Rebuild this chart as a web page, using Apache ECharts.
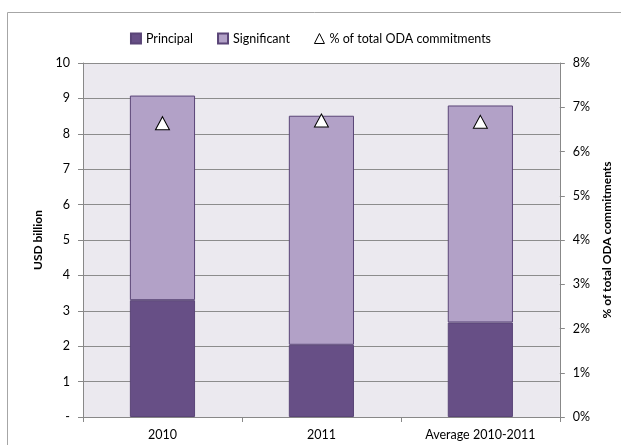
<!DOCTYPE html>
<html>
<head>
<meta charset="utf-8">
<script src="https://cdn.jsdelivr.net/npm/echarts@6/dist/echarts.min.js"></script>
<style>
  html, body { margin: 0; padding: 0; background: #fff; }
  #chart { width: 621px; height: 445px; }
</style>
</head>
<body>
<div id="chart"></div>
<script>
  // values
  var categories = ['2010', '2011', 'Average 2010-2011'];
  var principal = [3.30, 2.04, 2.67];
  var significant = [5.78, 6.47, 6.13];
  var pctOfOda = [6.64, 6.70, 6.67];

  var chart = echarts.init(document.getElementById('chart'));
  var font = 'Lato, "Open Sans", sans-serif';

  chart.setOption({
    animation: false,
    textStyle: { fontFamily: font },
    graphic: [{
      type: 'rect',
      shape: { x: 7.5, y: 12.5, width: 640, height: 460 },
      style: { fill: 'none', stroke: '#a6a6a6', lineWidth: 1 },
      silent: true
    }],
    legend: {
      top: 27,
      left: 'center',
      itemGap: 24,
      itemWidth: 10,
      itemHeight: 10,
      textStyle: { fontSize: 12.5, color: '#000', fontFamily: font },
      data: [
        { name: 'Principal', icon: 'rect' },
        { name: 'Significant', icon: 'rect' },
        { name: '% of total ODA commitments', icon: 'triangle',
          itemStyle: { color: '#fff', borderColor: '#000', borderWidth: 1 } }
      ]
    },
    grid: {
      left: 83, right: 60, top: 63, bottom: 28,
      show: true, backgroundColor: '#ebe9ef', borderWidth: 0
    },
    xAxis: {
      type: 'category',
      data: categories,
      axisLine: { lineStyle: { color: '#888' } },
      axisTick: { show: true, length: 5, lineStyle: { color: '#888' } },
      axisLabel: { color: '#000', fontSize: 12.5, margin: 11 }
    },
    yAxis: [{
      type: 'value',
      min: 0, max: 10, interval: 1,
      name: 'USD billion',
      nameLocation: 'middle',
      nameGap: 34,
      nameRotate: 90,
      nameTextStyle: { fontWeight: 'bold', fontSize: 12, color: '#000' },
      axisLine: { show: true, lineStyle: { color: '#888' } },
      axisTick: { show: true, length: 5, lineStyle: { color: '#888' } },
      axisLabel: {
        color: '#000', fontSize: 12.5, margin: 13,
        formatter: function (v) { return v === 0 ? '-' : v; }
      },
      splitLine: { lineStyle: { color: '#8c8c8c', width: 1 } }
    }, {
      type: 'value',
      min: 0, max: 8, interval: 1,
      name: '% of total ODA commitments',
      nameLocation: 'middle',
      nameGap: 40,
      nameRotate: 90,
      nameTextStyle: { fontWeight: 'bold', fontSize: 12, color: '#000' },
      axisLine: { show: true, lineStyle: { color: '#888' } },
      axisTick: { show: true, length: 5, lineStyle: { color: '#888' } },
      axisLabel: { color: '#000', fontSize: 12.5, margin: 13, formatter: '{value}%' },
      splitLine: { show: false }
    }],
    series: [{
      name: 'Principal',
      type: 'bar',
      stack: 'total',
      barWidth: '41%',
      data: principal,
      itemStyle: { color: '#674f86', borderColor: '#5a4577', borderWidth: 1 }
    }, {
      name: 'Significant',
      type: 'bar',
      stack: 'total',
      data: significant,
      itemStyle: { color: '#b2a1c7', borderColor: '#5a4577', borderWidth: 1 }
    }, {
      name: '% of total ODA commitments',
      type: 'line',
      yAxisIndex: 1,
      data: pctOfOda,
      symbol: 'triangle',
      symbolSize: [14, 13],
      lineStyle: { width: 0, opacity: 0 },
      itemStyle: { color: '#fff', borderColor: '#000', borderWidth: 1 },
      z: 5
    }]
  });
</script>
</body>
</html>
